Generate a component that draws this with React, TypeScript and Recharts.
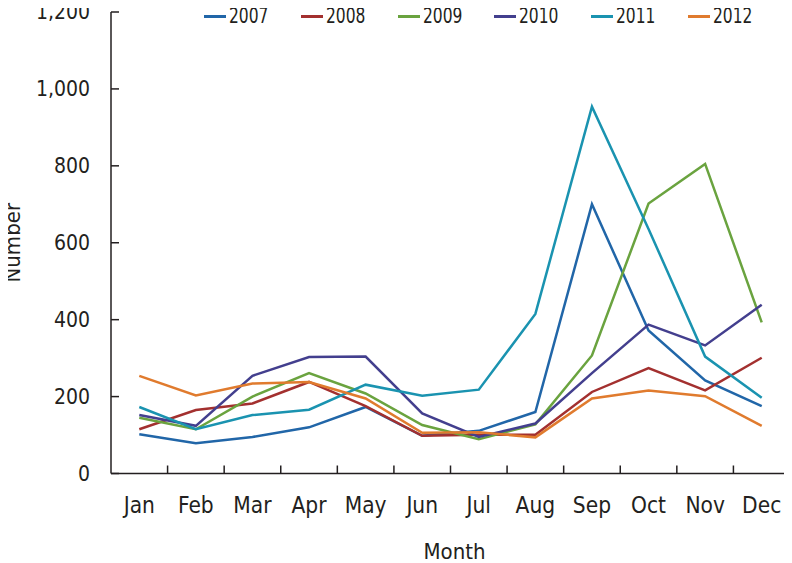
import { CartesianGrid, Line, LineChart, XAxis, YAxis, Label } from "recharts";

const months = ["Jan", "Feb", "Mar", "Apr", "May", "Jun", "Jul", "Aug", "Sep", "Oct", "Nov", "Dec"];
const years = ["2007", "2008", "2009", "2010", "2011", "2012"];
const yearColors = ["#2166a8", "#a3302f", "#6aa33f", "#433f8e", "#1a93b0", "#e07b2e"];

const v2007 = [102, 79, 95, 120, 173, 98, 111, 160, 700, 372, 242, 175];
const v2008 = [115, 165, 182, 238, 175, 98, 101, 101, 212, 274, 216, 301];
const v2009 = [145, 115, 200, 261, 208, 126, 89, 128, 307, 702, 805, 393];
const v2010 = [152, 124, 254, 303, 304, 156, 95, 130, 261, 387, 333, 439];
const v2011 = [173, 115, 152, 166, 231, 202, 218, 415, 954, 636, 304, 197];
const v2012 = [254, 203, 234, 238, 195, 106, 107, 94, 195, 216, 201, 124];
const yTicks = [0, 200, 400, 600, 800, 1000, 1200];

const series = [v2007, v2008, v2009, v2010, v2011, v2012];
const data = months.map((m, i) => {
  const row: Record<string, string | number> = { month: m };
  years.forEach((y, k) => (row[y] = series[k][i]));
  return row;
});

// chart is shifted by the body margin so its coords match the page
const W = 792;
const H = 563;
const MARGIN = { top: 12, right: 2, left: 0, bottom: 0 };
const Y_W = 111;
const BAND = (W - Y_W - MARGIN.left - MARGIN.right) / months.length;
const INK = "#231f20";
const FONT = "'DejaVu Sans Condensed', 'DejaVu Sans', sans-serif";

function MonthTick(props: any) {
  const { x, y, payload } = props;
  const bx = x + BAND / 2;
  return (
    <g>
      <line x1={bx} x2={bx} y1={y} y2={y - 8} stroke={INK} strokeWidth={1.5} />
      <text x={x} y={y + 39} textAnchor="middle" fill={INK} fontSize={22.5} fontFamily={FONT}>
        {payload.value}
      </text>
    </g>
  );
}

export default function App() {
  return (
    <div style={{ position: "relative", width: W, height: H, margin: "-8px 0 0 -8px", fontFamily: FONT }}>
      <LineChart width={W} height={H} data={data} margin={MARGIN}>
        <CartesianGrid stroke="none" />
        <XAxis
          dataKey="month"
          scale="band"
          height={89.5}
          tickSize={0}
          tickMargin={0}
          tickLine={false}
          axisLine={{ stroke: INK, strokeWidth: 1.5 }}
          tick={<MonthTick />}
          interval={0}
        >
          <Label value="Month" position="insideBottom" offset={4} dx={4} fill={INK} fontSize={22} fontFamily={FONT} />
        </XAxis>
        <YAxis
          width={Y_W}
          domain={[0, 1200]}
          ticks={yTicks}
          interval={0}
          tickSize={-8}
          tickMargin={29}
          tickLine={{ stroke: INK, strokeWidth: 1.5 }}
          axisLine={{ stroke: INK, strokeWidth: 1.5 }}
          tick={{ fill: INK, fontSize: 21, fontFamily: FONT }}
          tickFormatter={(v: number) => v.toLocaleString("en-US")}
        >
          <Label value="Number" angle={-90} position="center" dx={-43} fill={INK} fontSize={22} fontFamily={FONT} />
        </YAxis>
        {years.map((y, k) => (
          <Line
            key={y}
            isAnimationActive={false}
            type="linear"
            dataKey={y}
            stroke={yearColors[k]}
            strokeWidth={2.5}
            dot={false}
            activeDot={false}
          />
        ))}
      </LineChart>
      <div style={{ position: "absolute", left: 204, top: 4, display: "flex" }}>
        {years.map((y, k) => (
          <div key={y} style={{ width: 96.8, display: "flex", alignItems: "center", fontSize: 21, color: INK }}>
            <span style={{ display: "inline-block", width: 22, height: 3, background: yearColors[k], marginRight: 3 }} />
            <span style={{ display: "inline-block", transform: "scaleX(0.82)", transformOrigin: "left center" }}>{y}</span>
          </div>
        ))}
      </div>
    </div>
  );
}
